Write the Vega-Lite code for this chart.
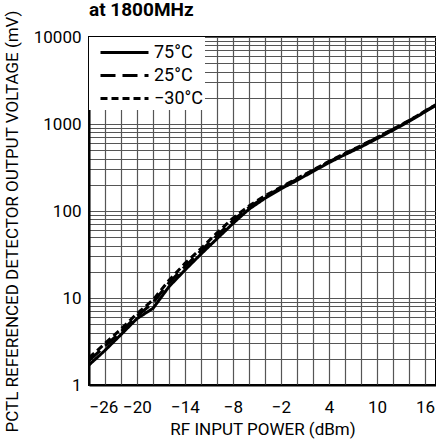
{
  "$schema": "https://vega.github.io/schema/vega-lite/v6.json",
  "width": 347,
  "height": 348,
  "autosize": {"type": "none"},
  "padding": {"left": 89, "top": 37, "right": 0, "bottom": 60},
  "background": "white",
  "title": {
    "text": "at 1800MHz",
    "anchor": "start",
    "frame": "group",
    "font": "Roboto",
    "fontSize": 19,
    "fontWeight": "bold",
    "color": "black",
    "baseline": "bottom",
    "offset": 0,
    "dy": 29
  },
  "config": {
    "font": "Roboto",
    "view": {"stroke": "black", "strokeWidth": 2},
    "axis": {
      "labelFont": "Roboto",
      "titleFont": "Roboto",
      "labelColor": "black",
      "titleColor": "black",
      "labelFontSize": 17,
      "titleFontSize": 17,
      "titleFontWeight": "normal",
      "gridColor": "#555555",
      "gridWidth": 1.2,
      "gridOpacity": 1,
      "domainColor": "black",
      "domainWidth": 2,
      "ticks": false
    }
  },
  "data": {
    "values": [
      {"P": -26, "V": 1.7, "T": "75°C"},
      {"P": -24, "V": 2.5, "T": "75°C"},
      {"P": -22, "V": 3.8, "T": "75°C"},
      {"P": -20, "V": 5.8, "T": "75°C"},
      {"P": -18, "V": 7.6, "T": "75°C"},
      {"P": -16, "V": 13.5, "T": "75°C"},
      {"P": -14, "V": 21, "T": "75°C"},
      {"P": -12, "V": 32, "T": "75°C"},
      {"P": -10, "V": 48, "T": "75°C"},
      {"P": -8, "V": 72, "T": "75°C"},
      {"P": -6, "V": 105, "T": "75°C"},
      {"P": -4, "V": 140, "T": "75°C"},
      {"P": -2, "V": 180, "T": "75°C"},
      {"P": 0, "V": 225, "T": "75°C"},
      {"P": 2, "V": 285, "T": "75°C"},
      {"P": 4, "V": 360, "T": "75°C"},
      {"P": 6, "V": 445, "T": "75°C"},
      {"P": 8, "V": 545, "T": "75°C"},
      {"P": 10, "V": 680, "T": "75°C"},
      {"P": 12, "V": 850, "T": "75°C"},
      {"P": 14, "V": 1070, "T": "75°C"},
      {"P": 16, "V": 1380, "T": "75°C"},
      {"P": 17.4, "V": 1650, "T": "75°C"},
      {"P": -26, "V": 1.9, "T": "25°C"},
      {"P": -24, "V": 2.8, "T": "25°C"},
      {"P": -22, "V": 4.1, "T": "25°C"},
      {"P": -20, "V": 6.2, "T": "25°C"},
      {"P": -18, "V": 8.8, "T": "25°C"},
      {"P": -16, "V": 15, "T": "25°C"},
      {"P": -14, "V": 23, "T": "25°C"},
      {"P": -12, "V": 35, "T": "25°C"},
      {"P": -10, "V": 52, "T": "25°C"},
      {"P": -8, "V": 78, "T": "25°C"},
      {"P": -6, "V": 110, "T": "25°C"},
      {"P": -4, "V": 145, "T": "25°C"},
      {"P": -2, "V": 185, "T": "25°C"},
      {"P": 0, "V": 232, "T": "25°C"},
      {"P": 2, "V": 292, "T": "25°C"},
      {"P": 4, "V": 368, "T": "25°C"},
      {"P": 6, "V": 455, "T": "25°C"},
      {"P": 8, "V": 558, "T": "25°C"},
      {"P": 10, "V": 695, "T": "25°C"},
      {"P": 12, "V": 870, "T": "25°C"},
      {"P": 14, "V": 1090, "T": "25°C"},
      {"P": 16, "V": 1400, "T": "25°C"},
      {"P": 17.4, "V": 1670, "T": "25°C"},
      {"P": -26, "V": 2.05, "T": "−30°C"},
      {"P": -24, "V": 3.0, "T": "−30°C"},
      {"P": -22, "V": 4.4, "T": "−30°C"},
      {"P": -20, "V": 6.6, "T": "−30°C"},
      {"P": -18, "V": 9.5, "T": "−30°C"},
      {"P": -16, "V": 16, "T": "−30°C"},
      {"P": -14, "V": 25, "T": "−30°C"},
      {"P": -12, "V": 37, "T": "−30°C"},
      {"P": -10, "V": 56, "T": "−30°C"},
      {"P": -8, "V": 83, "T": "−30°C"},
      {"P": -6, "V": 114, "T": "−30°C"},
      {"P": -4, "V": 150, "T": "−30°C"},
      {"P": -2, "V": 188, "T": "−30°C"},
      {"P": 0, "V": 236, "T": "−30°C"},
      {"P": 2, "V": 296, "T": "−30°C"},
      {"P": 4, "V": 372, "T": "−30°C"},
      {"P": 6, "V": 460, "T": "−30°C"},
      {"P": 8, "V": 565, "T": "−30°C"},
      {"P": 10, "V": 700, "T": "−30°C"},
      {"P": 12, "V": 875, "T": "−30°C"},
      {"P": 14, "V": 1095, "T": "−30°C"},
      {"P": 16, "V": 1405, "T": "−30°C"},
      {"P": 17.4, "V": 1675, "T": "−30°C"}
    ]
  },
  "mark": {"type": "line", "color": "black", "strokeWidth": 3, "clip": true},
  "encoding": {
    "x": {
      "field": "P",
      "type": "quantitative",
      "scale": {"domain": [-26, 17.375], "nice": false, "zero": false},
      "axis": {
        "title": "RF INPUT POWER (dBm)",
        "values": [-26, -24, -22, -20, -18, -16, -14, -12, -10, -8, -6, -4, -2, 0, 2, 4, 6, 8, 10, 12, 14, 16],
        "labelExpr": "(datum.value + 26) % 6 == 0 ? datum.label : ''",
        "labelPadding": 14,
        "titlePadding": 6
      }
    },
    "y": {
      "field": "V",
      "type": "quantitative",
      "scale": {"type": "log", "domain": [1, 10000], "nice": false},
      "axis": {
        "title": "PCTL REFERENCED DETECTOR OUTPUT VOLTAGE (mV)",
        "values": [1, 2, 3, 4, 5, 6, 7, 8, 9, 10, 20, 30, 40, 50, 60, 70, 80, 90, 100, 200, 300, 400, 500, 600, 700, 800, 900, 1000, 2000, 3000, 4000, 5000, 6000, 7000, 8000, 9000, 10000],
        "labelExpr": "(datum.value == 1 || datum.value == 10 || datum.value == 100 || datum.value == 1000 || datum.value == 10000) ? format(datum.value, 'd') : ''",
        "labelPadding": 8,
        "titleX": -77,
        "titleY": 184,
        "titleAngle": -90,
        "titleAlign": "center",
        "titleBaseline": "middle"
      }
    },
    "strokeDash": {
      "field": "T",
      "type": "nominal",
      "scale": {"domain": ["75°C", "25°C", "−30°C"], "range": [[1, 0], [15, 7], [7, 4]]},
      "legend": {
        "title": null,
        "orient": "none",
        "legendX": 0,
        "legendY": 0,
        "fillColor": "white",
        "padding": 2,
        "symbolType": "M-2,0H2",
        "symbolSize": 576,
        "symbolOffset": 20,
        "symbolStrokeWidth": 3,
        "symbolStrokeColor": "black",
        "labelFont": "Roboto",
        "labelFontSize": 18,
        "labelColor": "black",
        "labelOffset": 16,
        "rowPadding": -5.5
      }
    }
  }
}
